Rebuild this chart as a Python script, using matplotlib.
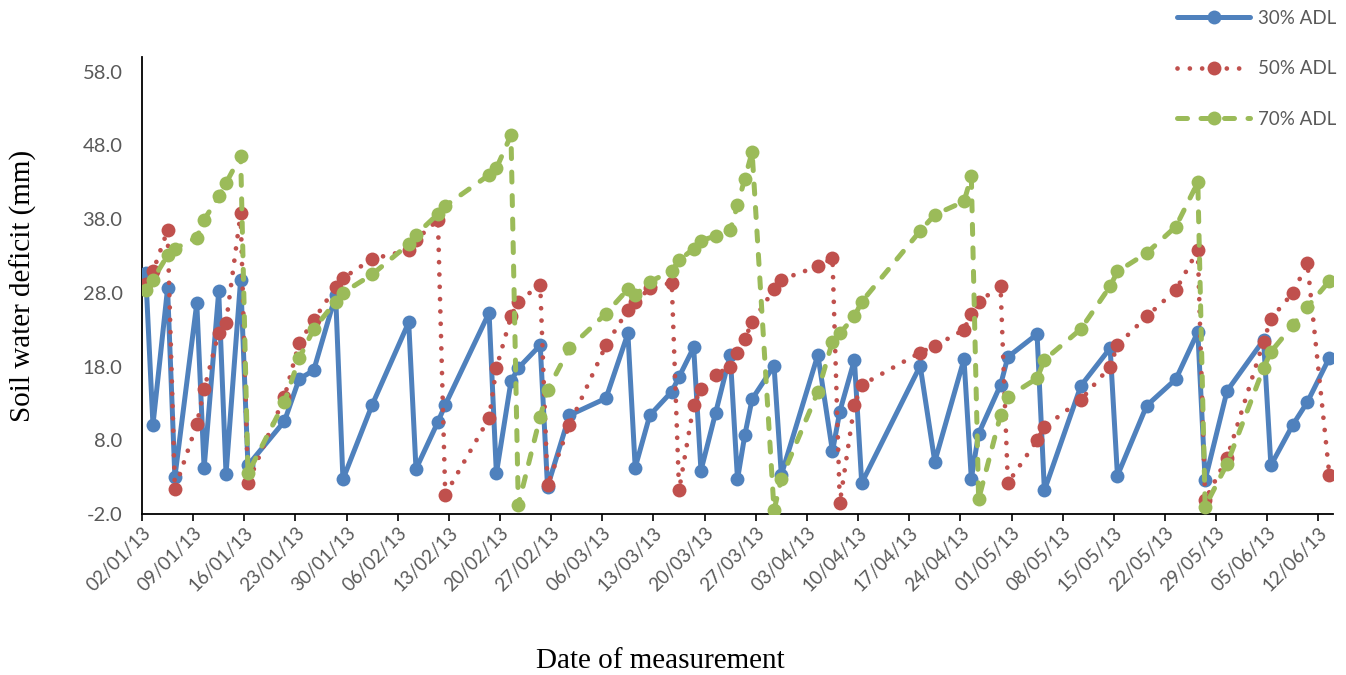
import numpy as np
import pandas as pd
import matplotlib
matplotlib.use("Agg")
import matplotlib.pyplot as plt
import matplotlib.dates as mdates

# measurement dates (same for all three treatments)
dates = ["02/01/13", "03/01/13", "05/01/13", "06/01/13", "09/01/13", "10/01/13", "12/01/13", "13/01/13",
         "15/01/13", "16/01/13", "21/01/13", "23/01/13", "25/01/13", "28/01/13", "29/01/13", "02/02/13",
         "07/02/13", "08/02/13", "11/02/13", "12/02/13", "18/02/13", "19/02/13", "21/02/13", "22/02/13",
         "25/02/13", "26/02/13", "01/03/13", "06/03/13", "09/03/13", "10/03/13", "12/03/13", "15/03/13",
         "16/03/13", "18/03/13", "19/03/13", "21/03/13", "23/03/13", "24/03/13", "25/03/13", "26/03/13",
         "29/03/13", "30/03/13", "04/04/13", "06/04/13", "07/04/13", "09/04/13", "10/04/13", "18/04/13",
         "20/04/13", "24/04/13", "25/04/13", "26/04/13", "29/04/13", "30/04/13", "04/05/13", "05/05/13",
         "10/05/13", "14/05/13", "15/05/13", "19/05/13", "23/05/13", "26/05/13", "27/05/13", "30/05/13",
         "04/06/13", "05/06/13", "08/06/13", "10/06/13", "13/06/13"]

adl30 = [30.7, 10.1, 28.6, 3.0, 26.6, 4.2, 28.2, 3.4, 29.8, 4.6,
         10.6, 16.3, 17.5, 27.7, 2.7, 12.8, 24.0, 4.1, 10.5, 12.8,
         25.3, 3.5, 16.0, 17.8, 20.9, 1.7, 11.4, 13.7, 22.5, 4.3,
         11.4, 14.6, 16.6, 20.6, 3.9, 11.7, 19.6, 2.7, 8.7, 13.6,
         18.1, 3.3, 19.6, 6.5, 11.9, 18.9, 2.2, 18.1, 5.1, 19.0,
         2.8, 8.9, 15.5, 19.3, 22.4, 1.2, 15.4, 20.5, 3.2, 12.7,
         16.3, 22.7, 2.6, 14.7, 21.6, 4.6, 10.1, 13.2, 19.2]

adl50 = [29.2, 30.9, 36.5, 1.4, 10.2, 14.9, 22.6, 23.9, 38.8, 2.2,
         13.9, 21.2, 24.3, 28.8, 30.0, 32.6, 33.8, 35.2, 37.9, 0.6,
         11.0, 17.8, 24.8, 26.8, 29.1, 1.9, 10.1, 20.9, 25.7, 26.8,
         28.6, 29.4, 1.2, 12.8, 14.9, 16.9, 18.0, 19.8, 21.8, 24.0,
         28.5, 29.8, 31.6, 32.7, -0.5, 12.8, 15.5, 19.9, 20.8, 23.0,
         25.2, 26.8, 28.9, 2.2, 8.0, 9.8, 13.5, 18.0, 20.9, 24.8,
         28.4, 33.8, -0.1, 5.6, 21.4, 24.5, 28.0, 32.0, 3.3]

adl70 = [28.4, 29.8, 33.1, 34.0, 35.5, 37.9, 41.1, 42.9, 46.6, 3.5,
         13.2, 19.1, 23.1, 26.8, 28.0, 30.5, 34.6, 35.9, 38.7, 39.8,
         44.0, 44.9, 49.4, -0.8, 11.2, 14.8, 20.5, 25.2, 28.5, 27.7,
         29.5, 31.0, 32.4, 34.0, 35.1, 35.7, 36.5, 39.9, 43.5, 47.1,
         -1.5, 2.8, 14.6, 21.4, 22.5, 24.8, 26.8, 36.4, 38.6, 40.4,
         43.8, 0.0, 11.4, 13.9, 16.4, 18.9, 23.1, 28.9, 30.9, 33.4,
         37.0, 43.0, -1.0, 4.8, 17.8, 20.0, 23.6, 26.1, 29.6]

x = pd.to_datetime(dates, format="%d/%m/%y") + pd.Timedelta(hours=12)

grey = "#595959"

fig = plt.figure(figsize=(13.46, 6.75), dpi=100)
ax = fig.add_axes([142/1346, 1 - 514/675, (1333 - 142)/1346, (514 - 57)/675])

ax.plot(x, adl30, color="#4F81BD", lw=3.6, ls="-", marker="o", ms=10, mew=0,
        solid_capstyle="round", solid_joinstyle="round", label="30% ADL", zorder=3)
ax.plot(x, adl50, color="#C0504D", lw=3.4, ls=(0, (0.01, 2.6)), marker="o", ms=10, mew=0,
        dash_capstyle="round", label="50% ADL", zorder=4)
ax.plot(x, adl70, color="#9BBB59", lw=3.6, ls=(0, (2.0, 2.7)), marker="o", ms=10, mew=0,
        dash_capstyle="round", label="70% ADL", zorder=5)

ax.set_ylim(-2, 60)
ax.set_yticks(np.arange(-2, 59, 10))
ax.yaxis.set_major_formatter(matplotlib.ticker.FormatStrFormatter("%.1f"))
ax.set_xlim(pd.Timestamp("2013-01-02"), pd.Timestamp("2013-06-14"))
ax.set_xticks(pd.date_range("2013-01-02", "2013-06-12", freq="7D"))
ax.xaxis.set_major_formatter(mdates.DateFormatter("%d/%m/%y"))

for s in ["top", "right"]:
    ax.spines[s].set_visible(False)
for s in ["left", "bottom"]:
    ax.spines[s].set_linewidth(1.3)
    ax.spines[s].set_color("black")

ax.tick_params(axis="y", length=0, pad=14, labelsize=14.5, labelcolor=grey)
ax.tick_params(axis="x", length=5, width=1.2, direction="out", pad=2, labelsize=13.5, labelcolor=grey)
for lbl in ax.get_yticklabels():
    lbl.set_family("Lato")
for lbl in ax.get_xticklabels():
    lbl.set_family("Lato")
    lbl.set_rotation(45)
    lbl.set_ha("right")
    lbl.set_rotation_mode("anchor")

ax.set_ylabel("Soil water deficit (mm)", family="Liberation Serif", fontsize=21, labelpad=33)
fig.text(660/1346, 1 - 661/675, "Date of measurement", family="Liberation Serif", fontsize=21,
         ha="center", va="center")

leg = fig.legend(loc="upper left", bbox_to_anchor=(1177/1346, 1 - 10/675), frameon=False,
                 borderpad=0, borderaxespad=0, handlelength=3.9, handletextpad=0.4,
                 labelspacing=1.78, prop={"family": "Lato", "size": 13.5})
for t in leg.get_texts():
    t.set_color(grey)

fig.savefig("out.png", dpi=100)
